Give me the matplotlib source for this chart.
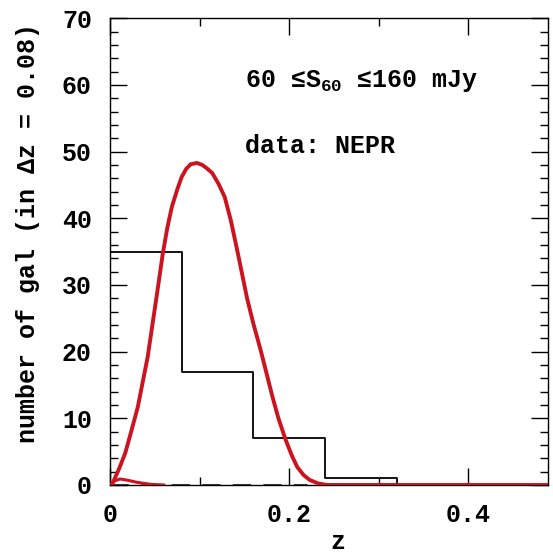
import matplotlib
matplotlib.use("Agg")
import matplotlib.pyplot as plt
from matplotlib.ticker import MultipleLocator

# Histogram (NEPR data), bin width 0.08
bin_edges = [0.0, 0.08, 0.16, 0.24, 0.32, 0.40]
counts = [35, 17, 7, 1, 0]

# Model curve (red)
model_z = [0.0, 0.003, 0.010, 0.017, 0.024, 0.031, 0.042, 0.053, 0.059, 0.064, 0.069,
           0.075, 0.080, 0.085, 0.090, 0.097, 0.103, 0.108, 0.114, 0.121, 0.128,
           0.135, 0.142, 0.153, 0.160, 0.168, 0.175, 0.181, 0.188, 0.196, 0.203,
           0.209, 0.216, 0.223, 0.232, 0.242, 0.30, 0.40, 0.49]
model_n = [0.0, 0.3, 2.4, 4.8, 8.2, 11.7, 19.2, 29.2, 34.8, 38.6, 41.7,
           44.3, 46.2, 47.4, 48.1, 48.3, 48.0, 47.5, 46.8, 45.2, 43.2,
           39.6, 35.2, 28.0, 24.2, 20.3, 16.6, 13.4, 10.0, 6.8, 4.4,
           2.7, 1.5, 0.75, 0.25, 0.0, 0.0, 0.0, 0.0]

# Small secondary red curve near zero
small_z = [0.0, 0.005, 0.011, 0.02, 0.03, 0.045, 0.06]
small_n = [0.0, 0.6, 0.9, 0.7, 0.4, 0.1, 0.0]

# Dark dashed curve along baseline
dash_z = [0.0, 0.22]
dash_n = [0.0, 0.0]

xlim = (0.0, 0.489)
ylim = (0, 70)
xticks = [0, 0.2, 0.4]
xticklabels = ["0", "0.2", "0.4"]
yticks = [0, 10, 20, 30, 40, 50, 60, 70]

FONT = ["Liberation Mono", "DejaVu Sans Mono"]
FS = 18
plt.rcParams["mathtext.fontset"] = "custom"
plt.rcParams["mathtext.rm"] = "Liberation Mono:bold"
plt.rcParams["mathtext.it"] = "Liberation Mono:bold"
plt.rcParams["mathtext.bf"] = "Liberation Mono:bold"

fig = plt.figure(figsize=(5.53, 5.53), dpi=100)
ax = fig.add_axes([0.199, 0.123, 0.792, 0.844])

# histogram as step
hx = [bin_edges[0]]
hy = [0]
for i, c in enumerate(counts):
    hx += [bin_edges[i], bin_edges[i + 1]]
    hy += [c, c]
ax.plot(hx, hy, color="black", lw=1.3, zorder=2)

ax.plot(dash_z, dash_n, color="#333333", lw=2.2, ls=(0, (6, 4)), zorder=3)
ax.plot(small_z, small_n, color="#cc1420", lw=2.2, zorder=4)
ax.plot(model_z, model_n, color="#cc1420", lw=2.8, zorder=5,
        solid_capstyle="round", solid_joinstyle="round")

ax.set_xlim(*xlim)
ax.set_ylim(*ylim)
ax.set_xticks(xticks)
ax.set_xticklabels(xticklabels)
ax.set_yticks(yticks)
ax.xaxis.set_minor_locator(MultipleLocator(0.1))
ax.yaxis.set_minor_locator(MultipleLocator(2))
ax.tick_params(which="both", direction="in", top=True, right=True, width=1.0)
ax.tick_params(which="major", length=12)
ax.tick_params(axis="x", which="major", pad=13)
ax.tick_params(axis="y", which="major", pad=13)
ax.tick_params(which="minor", length=6)
for lab in ax.get_xticklabels() + ax.get_yticklabels():
    lab.set_fontfamily(FONT)
    lab.set_fontweight("bold")
    lab.set_fontsize(FS)
for s in ax.spines.values():
    s.set_linewidth(1.0)

ax.set_xlabel("z", fontsize=FS, family=FONT, weight="bold", va="center")
ax.xaxis.set_label_coords(0.52, -0.122)
ax.set_ylabel("number of gal (in \u0394z = 0.08)", fontsize=FS, family=FONT, weight="bold")
ax.yaxis.set_label_coords(-0.16, 0.54)

ax.text(0.308, 0.852, "60 \u2264S$_{60}$ \u2264160 mJy", transform=ax.transAxes,
        fontsize=FS, ha="left", va="baseline", family=FONT, weight="bold")
ax.text(0.308, 0.711, "data: NEPR", transform=ax.transAxes,
        fontsize=FS, ha="left", va="baseline", family=FONT, weight="bold")

fig.savefig("out.png", dpi=100)
